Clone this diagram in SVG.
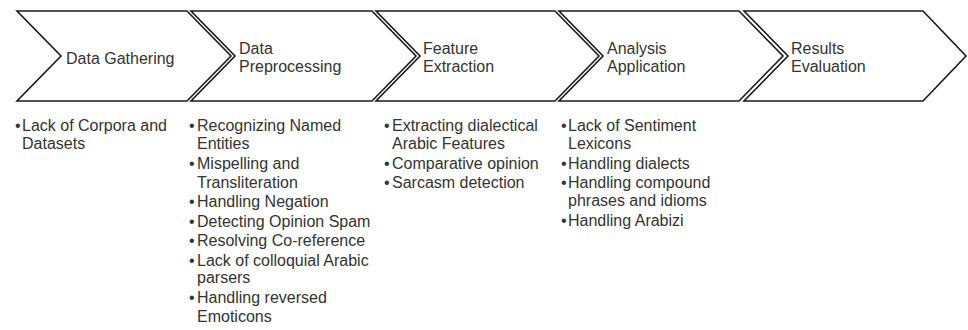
<svg xmlns="http://www.w3.org/2000/svg" width="968" height="330" viewBox="0 0 968 330">
<style>
.chev{fill:#fff;stroke:#1a1a1a;stroke-width:1.6;stroke-linejoin:miter}
.lbl{font-family:"Liberation Sans",Arial,sans-serif;font-size:16px;fill:#333}
.txt{font-family:"Liberation Sans",Arial,sans-serif;font-size:16px;fill:#333}
</style>
<rect width="968" height="330" fill="#fff"/>
<g id="connectors"></g>
<g id="step1">
<polygon class="chev" points="17,11 187,11 231,56 187,101 17,101 61,56"/>
<text class="lbl" x="66" y="63.5">Data Gathering</text>
</g>
<g id="step2">
<polygon class="chev" points="191,11 372,11 416,56 372,101 191,101 235,56"/>
<text class="lbl" x="239" y="53.5">Data</text>
<text class="lbl" x="239" y="71.5">Preprocessing</text>
</g>
<g id="step3">
<polygon class="chev" points="376,11 555,11 599,56 555,101 376,101 420,56"/>
<text class="lbl" x="423" y="53.5">Feature</text>
<text class="lbl" x="423" y="71.5">Extraction</text>
</g>
<g id="step4">
<polygon class="chev" points="559,11 739,11 783,56 739,101 559,101 603,56"/>
<text class="lbl" x="607" y="53.5">Analysis</text>
<text class="lbl" x="607" y="71.5">Application</text>
</g>
<g id="step5">
<polygon class="chev" points="744,11 923,11 966,56 923,101 744,101 788,56"/>
<text class="lbl" x="791" y="53.5">Results</text>
<text class="lbl" x="791" y="71.5">Evaluation</text>
</g>
<g id="list1">
<text class="txt" x="15" y="131">•</text>
<text class="txt" x="22" y="131">Lack of Corpora and</text>
<text class="txt" x="22" y="149">Datasets</text>
</g>
<g id="list2">
<text class="txt" x="189" y="131">•</text>
<text class="txt" x="197" y="131">Recognizing Named</text>
<text class="txt" x="197" y="149">Entities</text>
<text class="txt" x="189" y="168.5">•</text>
<text class="txt" x="197" y="168.5">Mispelling and</text>
<text class="txt" x="197" y="187.5">Transliteration</text>
<text class="txt" x="189" y="207">•</text>
<text class="txt" x="197" y="207">Handling Negation</text>
<text class="txt" x="189" y="226.5">•</text>
<text class="txt" x="197" y="226.5">Detecting Opinion Spam</text>
<text class="txt" x="189" y="246">•</text>
<text class="txt" x="197" y="246">Resolving Co-reference</text>
<text class="txt" x="189" y="265.5">•</text>
<text class="txt" x="197" y="265.5">Lack of colloquial Arabic</text>
<text class="txt" x="197" y="283">parsers</text>
<text class="txt" x="189" y="303">•</text>
<text class="txt" x="197" y="303">Handling reversed</text>
<text class="txt" x="197" y="322">Emoticons</text>
</g>
<g id="list3">
<text class="txt" x="384" y="131">•</text>
<text class="txt" x="392" y="131">Extracting dialectical</text>
<text class="txt" x="392" y="149">Arabic Features</text>
<text class="txt" x="384" y="168.5">•</text>
<text class="txt" x="392" y="168.5">Comparative opinion</text>
<text class="txt" x="384" y="187.5">•</text>
<text class="txt" x="392" y="187.5">Sarcasm detection</text>
</g>
<g id="list4">
<text class="txt" x="561" y="131">•</text>
<text class="txt" x="568" y="131">Lack of Sentiment</text>
<text class="txt" x="568" y="149">Lexicons</text>
<text class="txt" x="561" y="168.5">•</text>
<text class="txt" x="568" y="168.5">Handling dialects</text>
<text class="txt" x="561" y="187.5">•</text>
<text class="txt" x="568" y="187.5">Handling compound</text>
<text class="txt" x="568" y="206">phrases and idioms</text>
<text class="txt" x="561" y="226">•</text>
<text class="txt" x="568" y="226">Handling Arabizi</text>
</g>
</svg>
